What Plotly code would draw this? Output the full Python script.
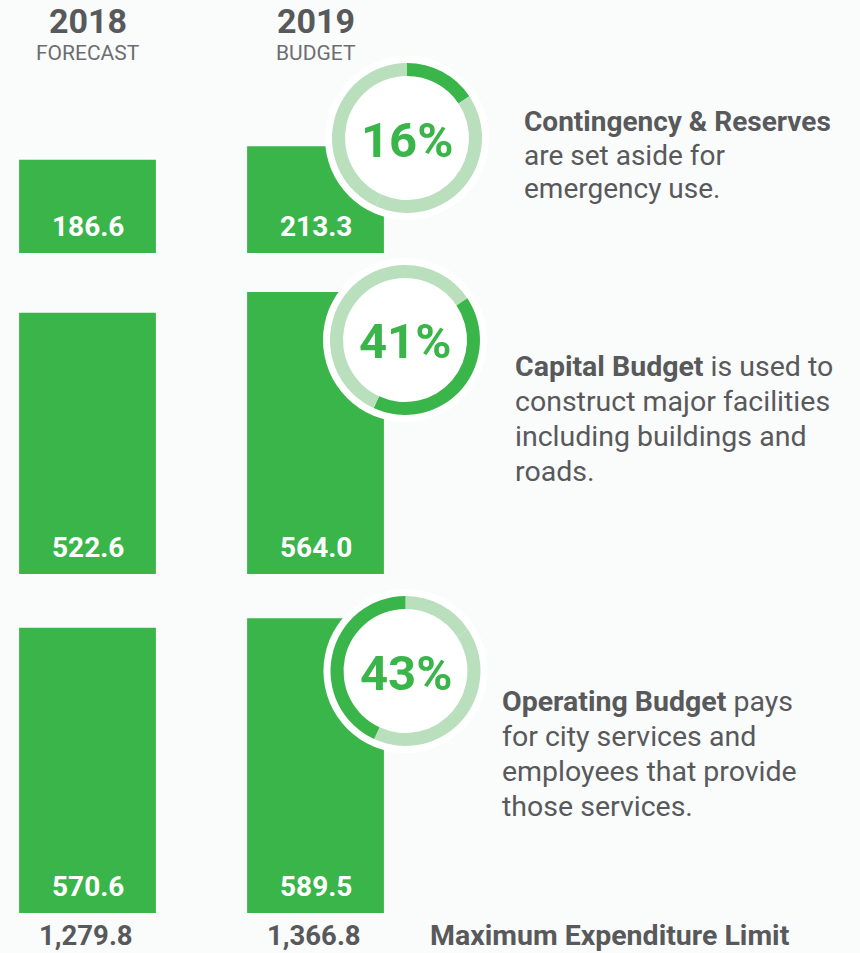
import plotly.graph_objects as go

# ---------------- data ----------------
years = ["2018", "2019"]
year_subtitles = ["FORECAST", "BUDGET"]
categories = ["Contingency & Reserves", "Capital Budget", "Operating Budget"]
values_2018 = [186.6, 522.6, 570.6]
values_2019 = [213.3, 564.0, 589.5]
descriptions = [
    "<b>Contingency & Reserves</b><br>are set aside for<br>emergency use.",
    "<b>Capital Budget</b> is used to<br>construct major facilities<br>including buildings and<br>roads.",
    "<b>Operating Budget</b> pays<br>for city services and<br>employees that provide<br>those services.",
]
total_label = "Maximum Expenditure Limit"

# ---------------- style ----------------
W, H = 860, 953
GREEN = "#3ab54a"
LIGHT = "#b9dfbd"
TXT = "#58595b"
FONT = "Roboto"

def py(px):
    return 1 - px / H

def pxx(px):
    return px / W

# rows: (baseline px, axis max)
rows = [
    (253, 250),   # contingency
    (574, 620),   # capital
    (913, 620),   # operating
]
SCALE = 0.5  # px per unit

xpos = list(range(len(years)))

fig = go.Figure()
layout_axes = {}
xr = [-87.5 / 228, (430 - 87.5) / 228]
for i, (base, ymax) in enumerate(rows):
    n = "" if i == 0 else str(i + 1)
    top = base - ymax * SCALE
    layout_axes["xaxis" + n] = dict(domain=[0, pxx(430)], range=xr, visible=False,
                                    fixedrange=True, anchor="y" + n)
    layout_axes["yaxis" + n] = dict(domain=[py(base), py(top)], range=[0, ymax],
                                    visible=False, fixedrange=True, anchor="x" + n)
    vals = [values_2018[i], values_2019[i]]
    fig.add_trace(go.Bar(x=xpos, y=vals, width=0.6, marker=dict(color=GREEN, line=dict(width=0)),
                         xaxis="x" + n, yaxis="y" + n, hoverinfo="skip", showlegend=False))
    for xp, v in zip(xpos, vals):
        fig.add_annotation(x=xp, y=0, xref="x" + n, yref="y" + n, xanchor="center",
                           yanchor="middle", yshift=27, text=f"{v:.1f}", showarrow=False,
                           font=dict(family=FONT, size=28, color="white", weight="bold"))

fig.update_layout(**layout_axes)

# totals under bars
totals = [sum(values_2018), sum(values_2019)]
for xp, t in zip(xpos, totals):
    fig.add_annotation(x=xp, y=0, xref="x3", yref="paper", xanchor="center", yanchor="bottom",
                       xshift=-2, borderpad=0, text=f"{t:,.1f}", showarrow=False,
                       font=dict(family=FONT, size=27.5, color=TXT, weight="bold"))
fig.add_annotation(x=pxx(429), y=0, xref="paper", yref="paper", xanchor="left",
                   yanchor="bottom", borderpad=0, text=total_label, showarrow=False,
                   font=dict(family=FONT, size=28.5, color=TXT, weight="bold"))

# headers
for xp, yr, sub in zip(xpos, years, year_subtitles):
    fig.add_annotation(x=xp, y=1, xref="x", yref="paper", xanchor="center",
                       yanchor="top", borderpad=0, text=yr, showarrow=False,
                       font=dict(family=FONT, size=34, color=TXT, weight="bold"))
    fig.add_annotation(x=xp, y=py(53), xref="x", yref="paper", xanchor="center",
                       yanchor="middle", borderpad=0, text=sub, showarrow=False,
                       font=dict(family=FONT, size=21, color="#6d6e70"))

# donuts
centers = [(407, 138), (405, 340), (405.5, 671)]
R_OUT, R_IN, R_WHITE = 75, 62, 82
total19 = sum(values_2019)
for i, (cx, cy) in enumerate(centers):
    fig.add_trace(go.Pie(values=[1], marker=dict(colors=["white"], line=dict(width=0)),
                         domain=dict(x=[pxx(cx - R_WHITE), pxx(cx + R_WHITE)],
                                     y=[py(cy + R_WHITE), py(cy - R_WHITE)]),
                         textinfo="none", hoverinfo="skip", showlegend=False, sort=False))
    cols = [GREEN if j == i else LIGHT for j in range(len(values_2019))]
    fig.add_trace(go.Pie(values=values_2019, labels=categories,
                         marker=dict(colors=cols, line=dict(width=0)),
                         hole=R_IN / R_OUT, sort=False, direction="clockwise", rotation=0,
                         domain=dict(x=[pxx(cx - R_OUT), pxx(cx + R_OUT)],
                                     y=[py(cy + R_OUT), py(cy - R_OUT)]),
                         textinfo="none", hoverinfo="skip", showlegend=False))
    pct = round(values_2019[i] / total19 * 100)
    fig.add_annotation(x=pxx(cx), y=py(cy + 2), xref="paper", yref="paper",
                       xanchor="center", yanchor="middle",
                       text=f"{pct}%", showarrow=False,
                       font=dict(family=FONT, size=49, color=GREEN, weight="bold"))

# descriptions: one annotation per line
desc_pos = [(522, 122, 33, 28), (513, 366, 35, 28.5), (500, 701, 35, 28.5)]
for txt, (x0, y0, dy, fs) in zip(descriptions, desc_pos):
    for k, line in enumerate(txt.split("<br>")):
        fig.add_annotation(x=pxx(x0), y=py(y0 + k * dy), xref="paper", yref="paper",
                           xanchor="left", yanchor="middle", align="left", text=line,
                           showarrow=False, font=dict(family=FONT, size=fs, color=TXT))

fig.update_layout(width=W, height=H, margin=dict(l=0, r=0, t=0, b=0),
                  paper_bgcolor="#fafbfb", plot_bgcolor="rgba(0,0,0,0)",
                  barmode="group", font=dict(family=FONT, color=TXT))

fig.write_html("out.html", config={"displayModeBar": False},
               post_script="document.body.style.margin='0px';document.documentElement.style.margin='0px';")
